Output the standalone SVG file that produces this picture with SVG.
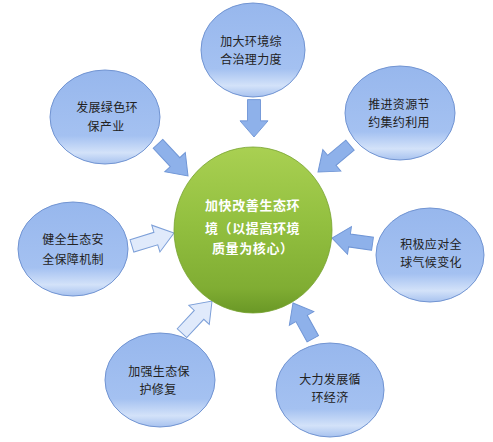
<svg xmlns="http://www.w3.org/2000/svg" width="493" height="442" viewBox="0 0 493 442">
<defs>
<linearGradient id="gBlue" x1="0" y1="0" x2="0" y2="1">
<stop offset="0" stop-color="#97b7ed"/>
<stop offset="0.7" stop-color="#a4c1f1"/>
<stop offset="0.88" stop-color="#d3e2f9"/>
<stop offset="1" stop-color="#a7c2ef"/>
</linearGradient>
<linearGradient id="gGreen" x1="0" y1="0" x2="0" y2="1">
<stop offset="0" stop-color="#a9d052"/>
<stop offset="0.45" stop-color="#93c040"/>
<stop offset="0.85" stop-color="#80ad33"/>
<stop offset="1" stop-color="#6a9826"/>
</linearGradient>
<path id="arr" d="M-44,-6.5 L-19,-6.5 L-19,-14 L0,0 L-19,14 L-19,6.5 L-44,6.5 Z"/>
</defs>
<style>
.node{fill:url(#gBlue);stroke:#7194d2;stroke-width:1}
.t{font-family:"Noto Sans CJK SC","Noto Sans CJK JP",sans-serif;font-size:12px;fill:#222;text-anchor:middle;letter-spacing:0.3px}
.ct{font-family:"Noto Sans CJK SC","Noto Sans CJK JP",sans-serif;font-size:13px;font-weight:bold;fill:#ffffff;letter-spacing:0.6px}
.a1{fill:#8eb1ea;stroke:#7096d6;stroke-width:1}
.a2{fill:#e0eafb;stroke:#7c9fd8;stroke-width:1}
</style>
<rect width="493" height="442" fill="#ffffff"/>
<g id="connectors">
<use href="#arr" class="a1" transform="translate(254,137) rotate(90) scale(0.85,1)"/>
<use href="#arr" class="a1" transform="translate(188,176) rotate(47)"/>
<use href="#arr" class="a1" transform="translate(318,172) rotate(140) scale(0.95,1)"/>
<use href="#arr" class="a2" transform="translate(174,233) rotate(-17)"/>
<use href="#arr" class="a1" transform="translate(332,238) rotate(188) scale(0.93,1)"/>
<use href="#arr" class="a2" transform="translate(212,301) rotate(-47)"/>
<use href="#arr" class="a1" transform="translate(293,303) rotate(-119) scale(0.93,1)"/>
</g>
<g id="center">
<ellipse cx="253" cy="230" rx="79" ry="83" fill="url(#gGreen)" stroke="#76a22e" stroke-width="0.8"/>
<text class="ct" x="205" y="210">加快改善生态环</text>
<text class="ct" x="205" y="233">境（以提高环境</text>
<text class="ct" x="212" y="253">质量为核心）</text>
</g>
<g id="n-top">
<ellipse class="node" cx="253" cy="50" rx="52" ry="47"/>
<text class="t" x="251" y="46">加大环境综</text>
<text class="t" x="251" y="64">合治理力度</text>
</g>
<g id="n-upleft">
<ellipse class="node" cx="105" cy="117" rx="55" ry="47"/>
<text class="t" x="107" y="112">发展绿色环</text>
<text class="t" x="106" y="131">保产业</text>
</g>
<g id="n-left">
<ellipse class="node" cx="73" cy="249" rx="55" ry="47"/>
<text class="t" x="73" y="244">健全生态安</text>
<text class="t" x="73" y="264">全保障机制</text>
</g>
<g id="n-upright">
<ellipse class="node" cx="400" cy="113" rx="55" ry="47"/>
<text class="t" x="399" y="109">推进资源节</text>
<text class="t" x="399" y="127">约集约利用</text>
</g>
<g id="n-right">
<ellipse class="node" cx="430" cy="255" rx="54" ry="47"/>
<text class="t" x="431" y="249">积极应对全</text>
<text class="t" x="431" y="267">球气候变化</text>
</g>
<g id="n-lowleft">
<ellipse class="node" cx="160" cy="380" rx="55" ry="47"/>
<text class="t" x="159" y="376">加强生态保</text>
<text class="t" x="158" y="394">护修复</text>
</g>
<g id="n-lowright">
<ellipse class="node" cx="330" cy="390" rx="54" ry="47"/>
<text class="t" x="330" y="384">大力发展循</text>
<text class="t" x="330" y="402">环经济</text>
</g>
</svg>
